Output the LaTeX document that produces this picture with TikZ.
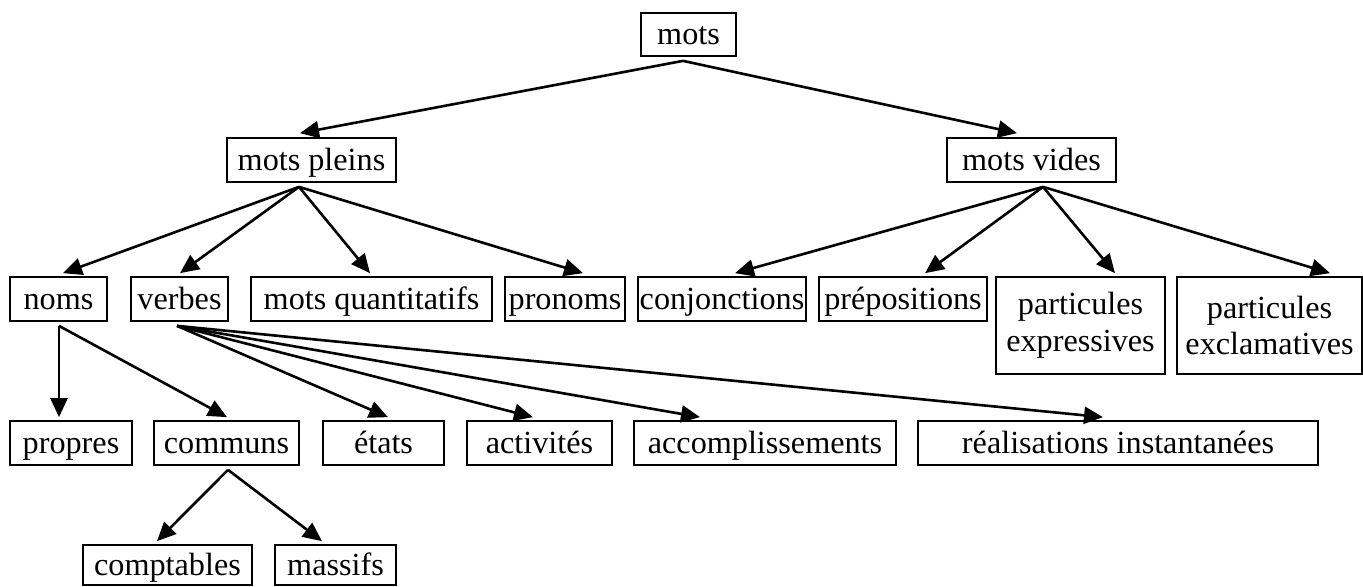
\documentclass[tikz,border=0pt]{standalone}
\usepackage{fontspec}
\setmainfont{Liberation Serif}
\usetikzlibrary{arrows.meta,calc}
\begin{document}
\begin{tikzpicture}[x=0.5pt,y=-0.5pt,
  bx/.style={draw, line width=0.85pt, inner sep=0pt, minimum height=22pt,
    font=\fontsize{16.1}{18.3}\selectfont, align=center},
  one/.style={text height=12pt, text depth=2pt},
  conn/.style={line width=1.3pt, -{Triangle[length=9.5pt,width=8.5pt]}}]
\useasboundingbox (0,0) rectangle (1363,586);
% row 1
\node[bx, one, minimum width=47.5pt, minimum height=21.5pt] (mots) at (688.5,34.5) {mots};
% row 2
\node[bx, one, minimum width=84.5pt] (pleins) at (311.5,160) {mots pleins};
\node[bx, one, minimum width=84.5pt] (vides) at (1031.5,160) {mots vides};
% row 3
\node[bx, one, minimum width=48.5pt] (noms) at (58.5,299) {noms};
\node[bx, one, minimum width=48.5pt] (verbes) at (179.5,299) {verbes};
\node[bx, one, minimum width=120.5pt] (quant) at (371.5,299) {mots quantitatifs};
\node[bx, one, minimum width=60pt] (pronoms) at (565,299) {pronoms};
\node[bx, one, minimum width=84pt] (conj) at (722,299) {conjonctions};
\node[bx, one, minimum width=84pt] (prep) at (903,299) {prépositions};
\node[bx, minimum width=84.5pt, minimum height=48.5pt] (expr) at (1080.5,325.5) {particules\\expressives};
\node[bx, minimum width=92.5pt, minimum height=48.5pt] (excl) at (1269.5,325.5) {particules\\exclamatives};
% row 4
\node[bx, one, minimum width=61pt] (propres) at (71,443) {propres};
\node[bx, one, minimum width=72.5pt] (communs) at (226.5,443) {communs};
\node[bx, one, minimum width=60.5pt] (etats) at (383.5,443) {états};
\node[bx, one, minimum width=72.5pt] (activ) at (539.5,443) {activités};
\node[bx, one, minimum width=131pt] (accomp) at (765,443) {accomplissements};
\node[bx, one, minimum width=200pt] (real) at (1118,443) {réalisations instantanées};
% row 5
\node[bx, one, minimum width=84.5pt, minimum height=20pt] (compt) at (167.5,565) {comptables};
\node[bx, one, minimum width=60.5pt, minimum height=20pt] (massifs) at (335.5,565) {massifs};
% connectors
\draw[conn] ($(mots.south)+(-5.5,4)$) -- ($(pleins.north)+(-11.5,-4)$);
\draw[conn] ($(mots.south)+(-5.5,4)$) -- ($(vides.north)+(-14.5,-4)$);
\draw[conn] ($(pleins.south)+(-12.5,4)$) -- ($(noms.north)+(4.5,-3)$);
\draw[conn] ($(pleins.south)+(-12.5,4)$) -- ($(verbes.north)+(0.5,-3)$);
\draw[conn] ($(pleins.south)+(-12.5,4)$) -- ($(quant.north)+(-1.5,-3)$);
\draw[conn] ($(pleins.south)+(-12.5,4)$) -- ($(pronoms.north)+(18,-3)$);
\draw[conn] ($(vides.south)+(11.5,4)$) -- ($(conj.north)+(13,-3)$);
\draw[conn] ($(vides.south)+(11.5,4)$) -- ($(prep.north)+(22,-3)$);
\draw[conn] ($(vides.south)+(11.5,4)$) -- ($(expr.north)+(34.5,-3)$);
\draw[conn] ($(vides.south)+(11.5,4)$) -- ($(excl.north)+(60.5,-3)$);
\draw[conn] ($(noms.south)+(0.5,4)$) -- ($(propres.north)+(-12,-3)$);
\draw[conn] ($(noms.south)+(0.5,4)$) -- ($(communs.north)+(0.5,-3)$);
\draw[conn] ($(verbes.south)+(-2.5,4)$) -- ($(etats.north)+(4.5,-3)$);
\draw[conn] ($(verbes.south)+(-2.5,4)$) -- ($(activ.north)+(-6.5,-3)$);
\draw[conn] ($(verbes.south)+(-2.5,4)$) -- ($(accomp.north)+(-65,-3)$);
\draw[conn] ($(verbes.south)+(-2.5,4)$) -- ($(real.north)+(-15,-3)$);
\draw[conn] ($(communs.south)+(1.5,4)$) -- ($(compt.north)+(-10.5,-3)$);
\draw[conn] ($(communs.south)+(1.5,4)$) -- ($(massifs.north)+(-13.5,-3)$);
\end{tikzpicture}
\end{document}
